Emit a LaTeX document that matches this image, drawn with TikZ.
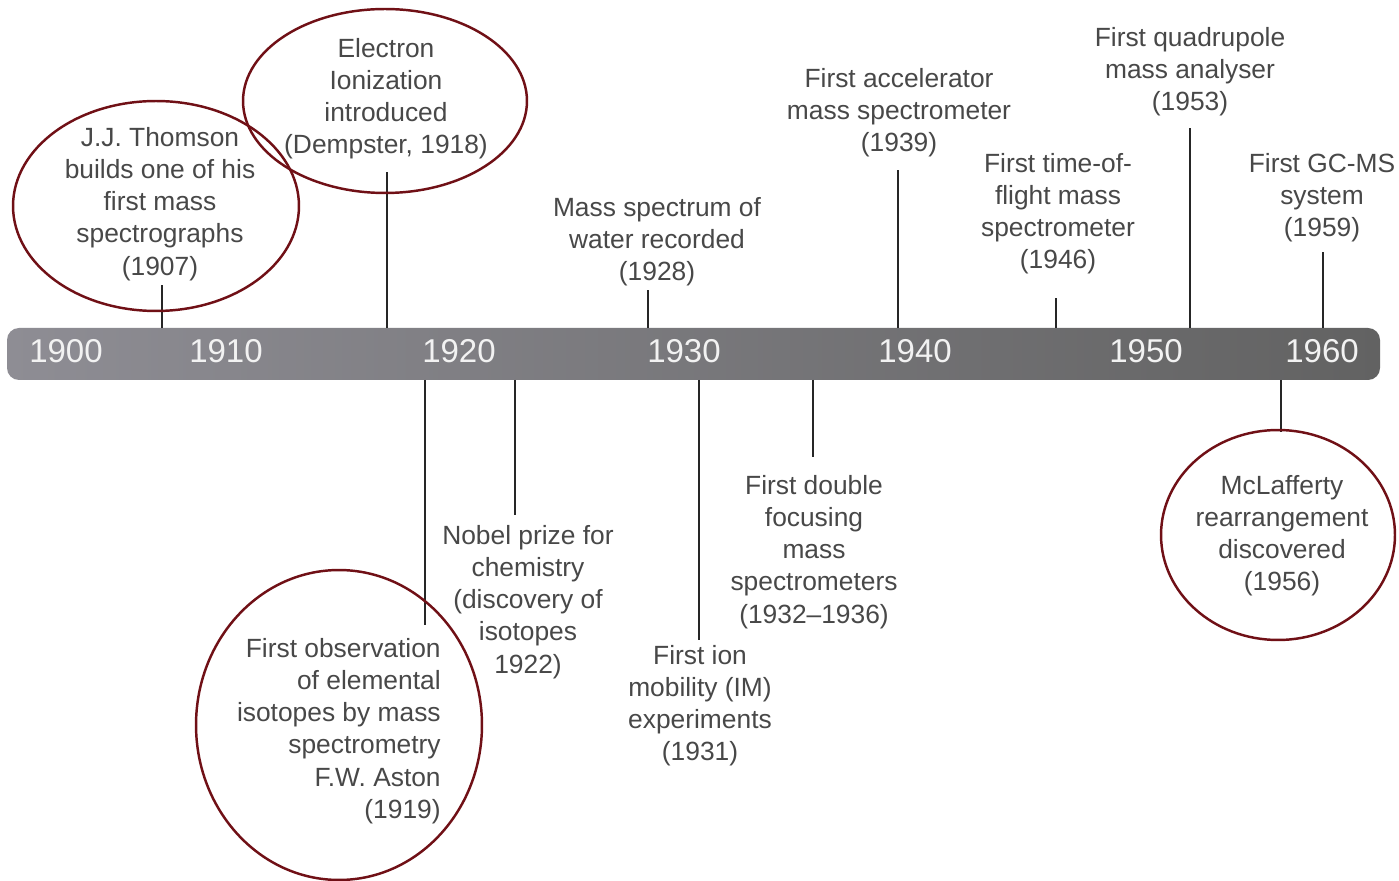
\documentclass[tikz,border=0pt]{standalone}
\usepackage{fontspec}
\setmainfont{Liberation Sans}
\definecolor{ink}{RGB}{72,72,72}
\definecolor{ringred}{RGB}{112,16,22}
\definecolor{barleft}{RGB}{142,141,148}
\definecolor{barright}{RGB}{98,98,98}
\definecolor{yearink}{RGB}{242,242,242}
\begin{document}
\begin{tikzpicture}[x=0.02cm,y=-0.02cm,
  event/.style={font=\fontsize{15}{18.3}\selectfont, text=ink, align=center, inner sep=0pt, anchor=north},
  yearlbl/.style={font=\fontsize{18.8}{22}\selectfont, text=yearink, inner sep=0pt},
  tickline/.style={draw=black!85, line width=1pt},
  ringline/.style={draw=ringred, line width=1.4pt}]

% canvas
\fill[white] (0,0) rectangle (1399,881);
\useasboundingbox (0,0) rectangle (1399,881);

% timeline bar
\shade[left color=barleft, right color=barright, rounded corners=0.24cm] (7,328) rectangle (1380,380);

% decade labels
\node[yearlbl] (d1900) at (66,351) {1900};
\node[yearlbl] (d1910) at (226,351) {1910};
\node[yearlbl] (d1920) at (459,351) {1920};
\node[yearlbl] (d1930) at (684,351) {1930};
\node[yearlbl] (d1940) at (915,351) {1940};
\node[yearlbl] (d1950) at (1146,351) {1950};
\node[yearlbl] (d1960) at (1322,351) {1960};

% events above the bar
\node[event] (thomson) at (160,127) {J.J. Thomson\\builds one of his\\first mass\\spectrographs\\(1907)};
\node[event] (electron) at (386,38) {Electron\\Ionization\\introduced\\(Dempster, 1918)};
\node[event] (water) at (657,197) {Mass spectrum of\\water recorded\\(1928)};
\node[event] (accel) at (899,68) {First accelerator\\mass spectrometer\\(1939)};
\node[event] (tof) at (1058,153) {First time-of-\\flight mass\\spectrometer\\(1946)};
\node[event] (quad) at (1190,27) {First quadrupole\\mass analyser\\(1953)};
\node[event] (gcms) at (1322,153) {First GC-MS\\system\\(1959)};

% events below the bar
\node[event, align=right, anchor=north east] (aston) at (441,638) {First observation\\of elemental\\isotopes by mass\\spectrometry\\F.W. Aston\\(1919)};
\node[event] (nobel) at (528,525) {Nobel prize for\\chemistry\\(discovery of\\isotopes\\1922)};
\node[event] (ionmob) at (700,645) {First ion\\mobility (IM)\\experiments\\(1931)};
\node[event] (double) at (814,475) {First double\\focusing\\mass\\spectrometers\\(1932–1936)};
\node[event] (mclaff) at (1282,475) {McLafferty\\rearrangement\\discovered\\(1956)};

% tick positions on the bar
\coordinate (b1907) at (162,328);
\coordinate (b1918) at (387,328);
\coordinate (b1928) at (648,328);
\coordinate (b1939) at (898,328);
\coordinate (b1946) at (1056,328);
\coordinate (b1953) at (1190,328);
\coordinate (b1959) at (1323,328);
\coordinate (b1919) at (425,380);
\coordinate (b1922) at (515,380);
\coordinate (b1931) at (699,380);
\coordinate (b1932) at (813,380);
\coordinate (b1956) at (1281,380);

% free ends of the leader lines
\coordinate (e1907) at (162,285);
\coordinate (e1918) at (387,172);
\coordinate (e1928) at (648,290);
\coordinate (e1939) at (898,170);
\coordinate (e1946) at (1056,298);
\coordinate (e1953) at (1190,128);
\coordinate (e1959) at (1323,252);
\coordinate (e1919) at (425,625);
\coordinate (e1922) at (515,515);
\coordinate (e1931) at (699,640);
\coordinate (e1932) at (813,457);
\coordinate (e1956) at (1281,432);

\foreach \yr in {1907,1918,1928,1939,1946,1953,1959,1919,1922,1931,1932,1956}
  \draw[tickline] (b\yr) -- (e\yr);

% highlight rings
\draw[ringline] (156,206) ellipse [x radius=2.86cm, y radius=2.10cm];
\draw[ringline] (385,101) ellipse [x radius=2.84cm, y radius=1.84cm];
\draw[ringline] (339,725) ellipse [x radius=2.86cm, y radius=3.10cm];
\draw[ringline] (1278,535) ellipse [x radius=2.34cm, y radius=2.10cm];
\end{tikzpicture}
\end{document}
